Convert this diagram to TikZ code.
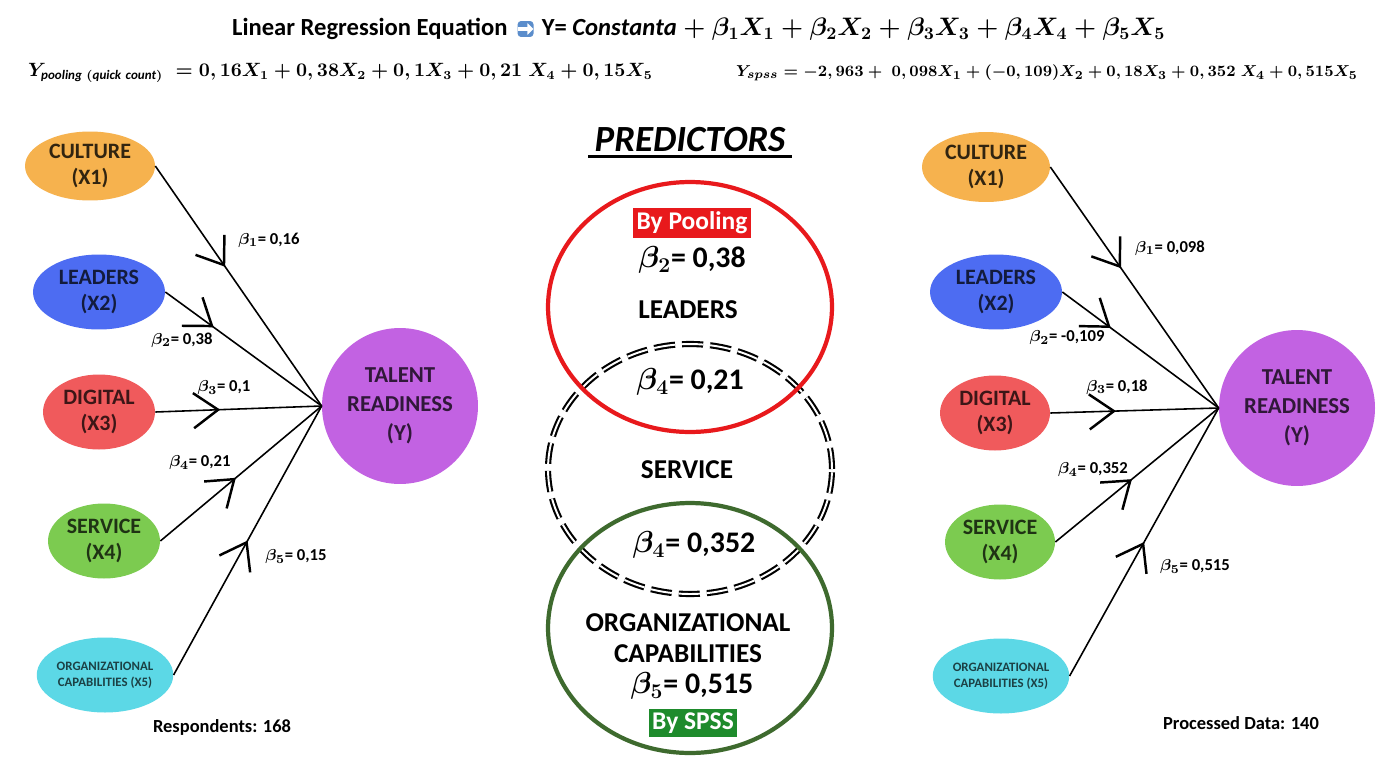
\documentclass[tikz,border=0pt]{standalone}
\usepackage{amsmath,amssymb}
\usepackage{fontspec}
\setmainfont{Carlito}
\usetikzlibrary{arrows.meta, positioning, shapes.geometric, decorations.markings}
\definecolor{cultureC}{HTML}{F6B24E}
\definecolor{leadersC}{HTML}{4D6CF2}
\definecolor{digitalC}{HTML}{F05A5C}
\definecolor{serviceC}{HTML}{7CCB50}
\definecolor{orgC}{HTML}{5CD8E6}
\definecolor{talentC}{HTML}{C262E2}
\definecolor{poolC}{HTML}{E8191C}
\definecolor{spssC}{HTML}{3E6A2E}
\definecolor{spssbox}{HTML}{1E8B2C}
\definecolor{iconC}{HTML}{5B8DCB}

\begin{document}
\begin{tikzpicture}[
  x=0.02cm, y=-0.02cm,
  var/.style={ellipse, inner sep=0pt, minimum height=1.5cm, align=center,
    font=\fontsize{12.5}{15}\selectfont\bfseries},
  target/.style={circle, fill=talentC, inner sep=0pt, minimum size=3.12cm, align=center,
    text=black!75!talentC, font=\fontsize{13}{16.5}\selectfont\bfseries},
  beta/.style={font=\fontsize{9.5}{11}\selectfont\bfseries, inner sep=1pt},
  big/.style={font=\fontsize{15.5}{18}\selectfont\bfseries, align=center, inner sep=1pt},
  venn/.style={ellipse, inner sep=0pt, minimum width=5.68cm, minimum height=5cm},
  tagbox/.style={text=white, font=\fontsize{14.5}{17}\selectfont\bfseries, inner sep=2pt},
  link/.style={line width=0.9pt},
  midarrow/.style={postaction={decorate}, decoration={markings,
    mark=at position #1 with {\arrow[line width=1.4pt]{Straight Barb[length=14pt,width=20pt]}}}},
  >=Stealth
]
  \useasboundingbox[fill=white] (0,0) rectangle (1381,764);

  \node[anchor=west, font=\fontsize{14}{17}\selectfont\bfseries] (title) at (226,29) {Linear Regression Equation};
  \node[fill=iconC, rounded corners=2pt, minimum size=0.32cm, inner sep=0pt, right=2pt of title] (icon) {};
  \draw[white, line width=2.2pt, -{Triangle[length=3.5pt,width=6.5pt]}] ([xshift=-4.5pt]icon.center) -- ([xshift=4.5pt]icon.center);
  \node[font=\fontsize{14}{17}\selectfont\bfseries, right=1pt of icon] (eq) {Y= {\boldmath$\mathit{Constanta}+\beta_1X_1+\beta_2X_2+\beta_3X_3+\beta_4X_4+\beta_5X_5$}};

  \node[anchor=west, font=\fontsize{10.6}{13}\selectfont\bfseries] (eqpool) at (22,73) {{\boldmath$Y_{\mathit{pooling}\;\mathit{(quick}\;\mathit{count)}}\;= 0,16X_1 + 0,38X_2 + 0,1X_3 + 0,21\;X_4 + 0,15X_5$}};
  \node[anchor=east, font=\fontsize{9.4}{12}\selectfont\bfseries] (eqspss) at (1364,73) {{\boldmath$Y_{spss} = -2,963 +\; 0,098X_1 + ({-}0,109)X_2 + 0,18X_3 + 0,352\;X_4 + 0,515X_5$}};

  % pooling side
  \node[var, fill=cultureC, text=black!80!cultureC, minimum width=2.6cm, minimum height=1.38cm] (cultL) at (90,166) {CULTURE\\(X1)};
  \node[var, fill=leadersC, text=black!75!leadersC, minimum width=2.64cm] (leadL) at (99,292) {LEADERS\\(X2)};
  \node[var, fill=digitalC, text=black!75!digitalC, minimum width=2.24cm] (digL) at (99,412) {DIGITAL\\(X3)};
  \node[var, fill=serviceC, text=black!75!serviceC, minimum width=2.24cm] (servL) at (104,541) {SERVICE\\(X4)};
  \node[var, fill=orgC, text=black!70!orgC, minimum width=2.6cm, font=\fontsize{7.3}{9}\selectfont\bfseries] (orgL) at (105,675) {ORGANIZATIONAL\\CAPABILITIES (X5)};
  \node[target] (talL) at (400,406) {TALENT\\READINESS\\(Y)};
  \coordinate (convL) at (talL.west);

  \draw[link, midarrow=0.42] (cultL.east) -- (convL);
  \draw[link, midarrow=0.31] (leadL.east) -- (convL);
  \draw[link, midarrow=0.39] (digL.east) -- (convL);
  \draw[link, midarrow=0.47] (servL.east) -- (convL);
  \draw[link, midarrow=0.5] (orgL.east) -- (convL);

  \node[beta] (b1L) at (269,240) {$\boldsymbol{\beta_1}$= 0,16};
  \node[beta] (b2L) at (182,340) {$\boldsymbol{\beta_2}$= 0,38};
  \node[beta] (b3L) at (224,388) {$\boldsymbol{\beta_3}$= 0,1};
  \node[beta] (b4L) at (200,463) {$\boldsymbol{\beta_4}$= 0,21};
  \node[beta] (b5L) at (296,557) {$\boldsymbol{\beta_5}$= 0,15};
  \node[font=\fontsize{10.5}{12}\selectfont\bfseries] (resp) at (222,727) {Respondents: 168};

  % spss side
  \node[var, fill=cultureC, text=black!80!cultureC, minimum width=2.56cm, minimum height=1.4cm] (cultR) at (986,167) {CULTURE\\(X1)};
  \node[var, fill=leadersC, text=black!75!leadersC, minimum width=2.64cm] (leadR) at (996,292) {LEADERS\\(X2)};
  \node[var, fill=digitalC, text=black!75!digitalC, minimum width=2.2cm] (digR) at (995,413) {DIGITAL\\(X3)};
  \node[var, fill=serviceC, text=black!75!serviceC, minimum width=2.2cm] (servR) at (1000,542) {SERVICE\\(X4)};
  \node[var, fill=orgC, text=black!70!orgC, minimum width=2.64cm, font=\fontsize{7.3}{9}\selectfont\bfseries] (orgR) at (1001,676) {ORGANIZATIONAL\\CAPABILITIES (X5)};
  \node[target] (talR) at (1297,408) {TALENT\\READINESS\\(Y)};
  \coordinate (convR) at (talR.west);

  \draw[link, midarrow=0.42] (cultR.east) -- (convR);
  \draw[link, midarrow=0.31] (leadR.east) -- (convR);
  \draw[link, midarrow=0.39] (digR.east) -- (convR);
  \draw[link, midarrow=0.47] (servR.east) -- (convR);
  \draw[link, midarrow=0.5] (orgR.east) -- (convR);

  \node[beta] (b1R) at (1170,248) {$\boldsymbol{\beta_1}$= 0,098};
  \node[beta] (b2R) at (1067,338) {$\boldsymbol{\beta_2}$= -0,109};
  \node[beta] (b3R) at (1117,387) {$\boldsymbol{\beta_3}$= 0,18};
  \node[beta] (b4R) at (1093,470) {$\boldsymbol{\beta_4}$= 0,352};
  \node[beta] (b5R) at (1195,567) {$\boldsymbol{\beta_5}$= 0,515};
  \node[font=\fontsize{10.5}{12}\selectfont\bfseries] (proc) at (1241,723) {Processed Data: 140};

  % predictors
  \node[font=\fontsize{21}{24}\selectfont\bfseries\itshape] (pred) at (690,140) {PREDICTORS};
  \draw[line width=1.8pt] ([yshift=1pt]pred.south west) -- ([yshift=1pt]pred.south east);

  \node[venn, draw, line width=1.2pt, double, double distance=1.1pt, dash pattern=on 12pt off 4pt] (svc) at (690,469) {};
  \node[venn, draw=poolC, line width=2.4pt] (pool) at (690,307) {};
  \node[venn, draw=spssC, line width=2.4pt] (spss) at (690,628) {};

  \node[tagbox, fill=poolC] (bypool) at (692,223) {By Pooling};
  \node[big, font=\fontsize{17}{20}\selectfont\bfseries] (p2) at (692,260) {$\boldsymbol{\beta_2}$= 0,38};
  \node[big] (pleads) at (688,310) {LEADERS};
  \node[big, font=\fontsize{17}{20}\selectfont\bfseries] (p4) at (690,382) {$\boldsymbol{\beta_4}$= 0,21};
  \node[big] (psvc) at (687,470) {SERVICE};
  \node[big, font=\fontsize{17}{20}\selectfont\bfseries] (s4) at (694,545) {$\boldsymbol{\beta_4}$= 0,352};
  \node[big, font=\fontsize{15.5}{17.5}\selectfont\bfseries] (sorg) at (688,638) {ORGANIZATIONAL\\CAPABILITIES};
  \node[big, font=\fontsize{17}{20}\selectfont\bfseries] (s5) at (692,686) {$\boldsymbol{\beta_5}$= 0,515};
  \node[tagbox, fill=spssbox] (byspss) at (693,723) {By SPSS};
\end{tikzpicture}
\end{document}
